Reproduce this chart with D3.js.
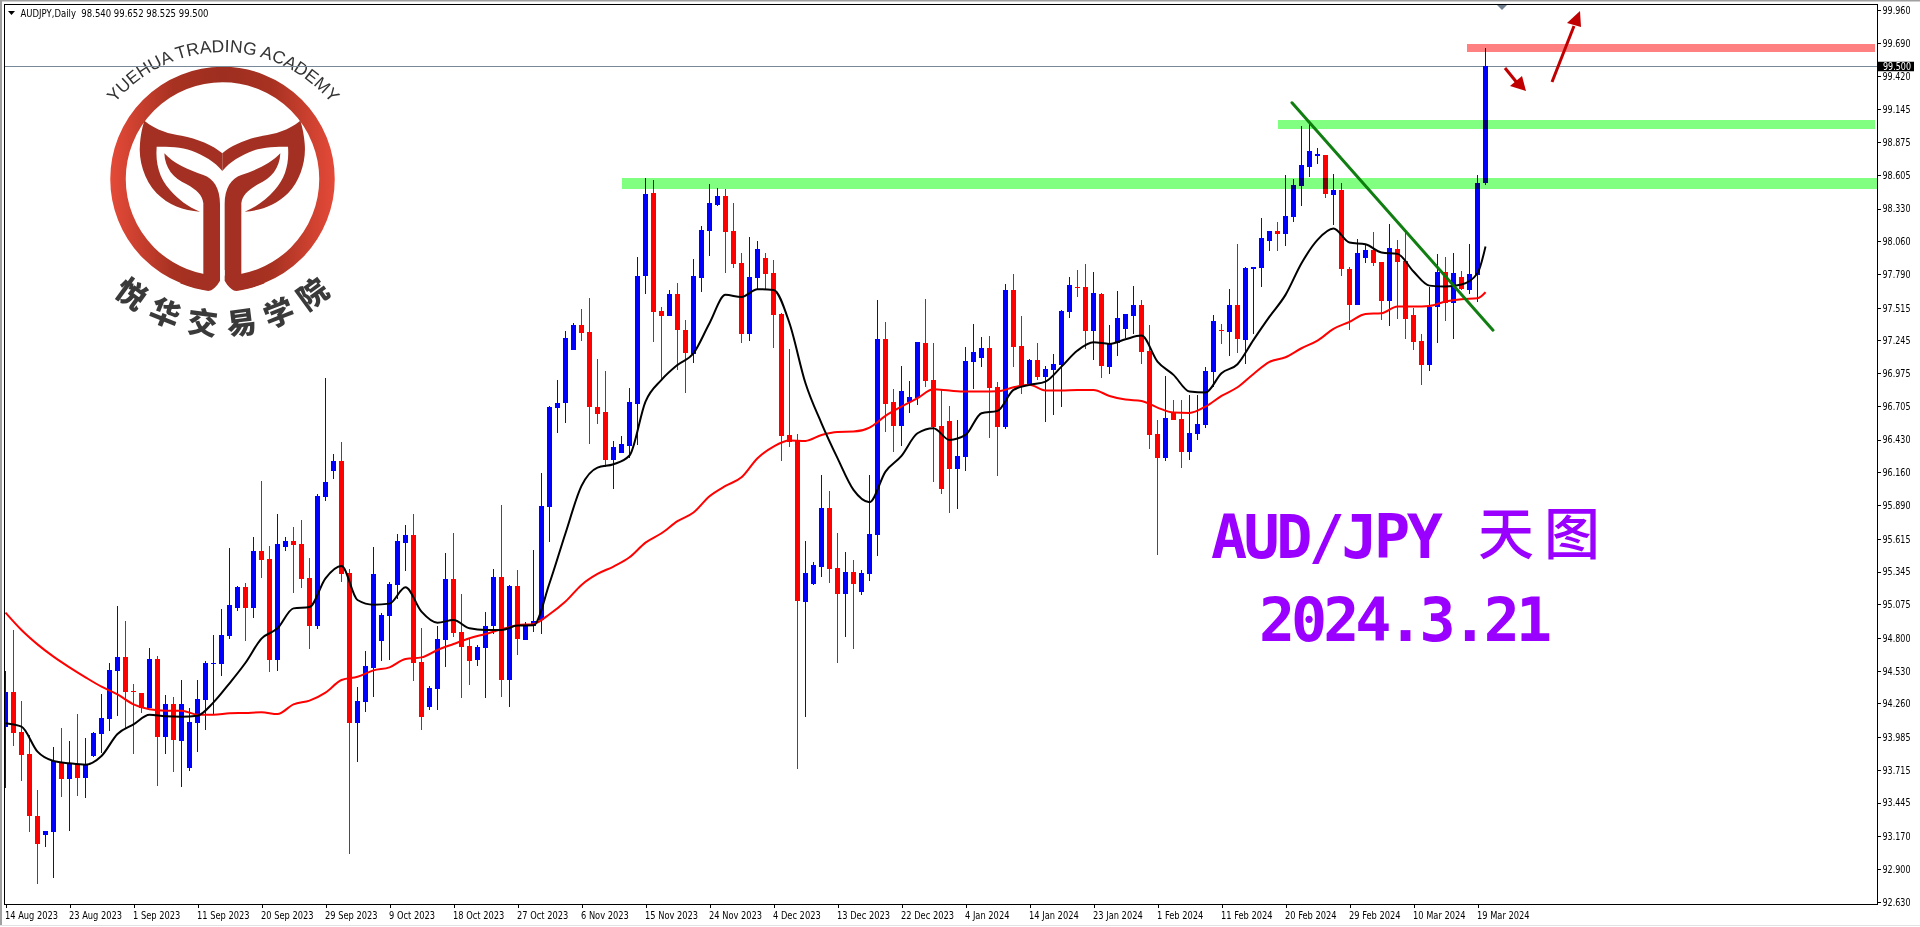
<!DOCTYPE html>
<html><head><meta charset="utf-8">
<script src="https://cdn.jsdelivr.net/npm/d3@7"></script>
<style>
html,body{margin:0;padding:0;background:#fff;overflow:hidden}
svg{display:block}
text{font-family:"Liberation Sans",Arial,sans-serif}
</style></head><body><svg id="c" width="1920" height="927"></svg>
<script>
const opens=[94.069,94.352,94.025,93.844,93.335,93.181,93.206,93.781,93.642,93.762,
93.650,93.831,94.012,94.135,94.530,94.642,94.362,94.346,94.223,94.626,
93.987,94.256,93.954,93.732,94.102,94.291,94.587,94.587,94.818,95.048,
95.218,95.048,95.514,95.448,94.620,95.549,95.596,95.571,95.292,94.900,
95.960,96.174,96.254,95.333,94.102,94.275,94.554,94.776,94.982,95.234,
95.582,95.645,94.601,94.234,94.382,94.782,95.283,94.848,94.732,94.620,
94.719,94.897,95.300,94.456,95.226,94.785,94.897,94.947,95.879,96.693,
96.732,97.167,97.373,97.315,96.699,96.658,96.266,96.323,96.381,96.726,
97.779,98.458,97.485,97.450,97.628,97.332,97.137,97.762,98.149,98.360,
98.434,98.146,97.883,97.302,97.762,97.924,97.801,97.463,96.468,96.419,
95.098,95.243,95.383,95.868,95.375,95.161,95.342,95.177,95.325,95.646,
97.258,96.740,96.542,96.740,96.773,97.225,96.921,96.542,96.584,96.189,
96.290,97.069,97.102,97.184,96.863,96.537,97.661,97.200,96.880,97.085,
96.945,97.003,97.044,97.480,97.685,97.685,97.324,97.628,97.028,97.225,
97.340,97.447,97.537,97.159,96.477,96.282,96.658,96.600,96.331,96.477,
96.553,96.989,97.332,97.318,97.537,97.252,97.836,97.844,98.064,98.146,
98.124,98.261,98.516,98.672,98.763,98.771,98.442,98.483,97.833,97.537,
97.924,97.990,97.891,97.570,97.998,97.899,97.455,97.241,97.044,97.521,
97.809,97.554,97.768,97.661,97.784,98.540];
const highs=[94.527,94.864,94.280,93.998,93.548,93.211,93.905,94.058,93.951,94.173,
93.976,94.023,94.338,94.590,95.061,94.938,94.420,94.346,94.716,94.650,
94.330,94.313,94.453,94.223,94.453,94.609,94.823,95.037,95.538,95.223,
95.251,95.629,96.089,95.555,95.818,95.629,95.711,95.769,95.456,95.982,
96.936,96.311,96.410,95.366,94.395,94.691,95.547,95.004,95.259,95.654,
95.728,95.818,94.881,94.404,94.897,95.497,95.662,95.160,94.790,94.741,
95.012,95.366,95.892,95.234,95.357,94.930,95.522,96.156,96.707,96.921,
97.324,97.389,97.505,97.595,97.093,96.995,96.419,96.460,96.855,97.932,
98.582,98.565,97.521,97.661,97.718,97.414,97.916,98.187,98.532,98.500,
98.491,98.376,97.965,98.097,98.064,97.965,97.907,97.469,97.176,96.477,
95.597,95.424,96.140,96.008,95.663,95.506,95.441,95.358,96.140,97.579,
97.398,96.847,97.036,96.912,97.233,97.587,97.225,96.838,96.707,96.592,
97.192,97.381,97.274,97.283,96.904,97.710,97.792,97.447,97.093,97.225,
97.036,97.134,97.496,97.768,97.825,97.875,97.809,97.636,97.373,97.653,
97.463,97.694,97.579,97.373,96.592,96.954,96.756,96.756,96.797,96.797,
97.028,97.455,97.381,97.669,98.039,97.850,97.850,98.253,98.146,98.220,
98.606,98.574,99.009,99.026,98.828,98.771,98.615,98.541,97.850,98.080,
98.039,98.138,97.891,98.204,98.072,98.154,97.513,97.299,97.688,97.957,
97.932,97.965,97.817,98.039,98.606,99.652];
const lows=[93.568,93.913,93.622,93.206,92.778,93.082,92.828,93.494,93.214,93.502,
93.485,93.822,93.850,94.036,94.157,94.055,93.847,94.184,94.220,93.584,
93.847,93.699,93.576,93.707,93.864,94.045,94.173,94.486,94.793,95.023,
94.774,94.966,95.292,94.521,94.530,95.516,95.171,95.212,94.711,94.875,
95.928,96.109,95.262,93.025,93.781,94.193,94.316,94.609,94.617,95.122,
95.349,94.447,94.045,94.209,94.209,94.563,94.809,94.308,94.415,94.571,
94.308,94.834,94.316,94.234,94.661,94.785,94.850,94.835,95.591,96.485,
96.570,97.167,97.241,96.397,96.562,96.208,96.027,96.323,96.277,96.389,
97.631,97.236,96.921,97.450,97.006,96.817,97.063,97.647,97.943,98.354,
97.803,97.844,97.228,97.244,97.661,97.661,97.187,96.257,96.372,93.725,
94.152,95.235,95.304,95.254,94.596,94.810,94.711,95.153,95.268,95.473,
96.493,96.329,96.378,96.649,96.715,96.863,96.082,95.983,95.827,95.860,
96.175,96.847,97.028,96.446,96.134,96.520,97.030,96.808,96.880,96.921,
96.578,96.636,96.701,97.433,97.603,97.178,97.085,96.937,96.970,97.118,
97.266,97.296,97.052,96.356,95.484,96.257,96.592,96.200,96.266,96.430,
96.529,96.866,97.219,97.121,97.145,97.055,97.302,97.688,97.984,97.984,
98.023,98.220,98.352,98.590,98.697,98.420,98.195,97.779,97.332,97.537,
97.883,97.858,97.414,97.365,97.422,97.258,97.167,96.880,96.995,97.225,
97.406,97.258,97.661,97.628,97.562,98.525];
const closes=[94.352,94.020,93.839,93.337,93.107,93.211,93.787,93.642,93.768,93.650,
93.757,94.014,94.140,94.535,94.642,94.357,94.357,94.220,94.626,93.987,
94.256,93.962,94.256,94.108,94.297,94.593,94.593,94.823,95.070,95.218,
95.048,95.514,95.442,94.620,95.571,95.596,95.566,95.286,94.900,95.966,
96.081,96.254,95.327,94.102,94.280,94.568,95.325,94.987,95.242,95.596,
95.645,94.595,94.151,94.387,94.790,95.283,94.842,94.727,94.612,94.724,
94.897,95.300,94.456,95.226,94.793,94.897,94.938,95.885,96.699,96.732,
97.266,97.373,97.310,96.701,96.644,96.266,96.370,96.394,96.740,97.776,
98.450,97.483,97.450,97.628,97.335,97.145,97.776,98.154,98.376,98.434,
98.140,97.877,97.302,97.768,97.998,97.795,97.458,96.463,96.414,95.106,
95.334,95.399,95.868,95.367,95.161,95.342,95.243,95.334,95.654,97.258,
96.723,96.542,96.830,96.781,97.233,96.912,96.534,96.024,96.189,96.296,
97.077,97.151,97.184,96.855,96.537,97.661,97.192,96.871,97.085,96.945,
97.011,97.052,97.488,97.702,97.680,97.324,97.636,97.036,97.225,97.431,
97.463,97.537,97.151,96.471,96.282,96.608,96.592,96.331,96.485,96.559,
96.995,97.406,97.326,97.537,97.261,97.842,97.850,98.088,98.146,98.124,
98.269,98.524,98.689,98.804,98.779,98.450,98.483,97.833,97.537,97.965,
97.990,97.883,97.570,98.006,97.891,97.422,97.233,97.044,97.524,97.809,
97.554,97.801,97.669,97.792,98.541,99.500];
// moving averages read at every second bar, plus the last bar
const maSlow=[95.007,94.864,94.746,94.645,94.557,94.475,94.398,94.335,94.253,94.212,
94.201,94.201,94.168,94.168,94.179,94.182,94.187,94.173,94.253,94.283,
94.349,94.453,94.480,94.532,94.557,94.626,94.639,94.700,94.749,94.796,
94.832,94.870,94.903,94.914,94.994,95.098,95.235,95.325,95.386,95.462,
95.583,95.660,95.759,95.830,95.964,96.049,96.120,96.277,96.373,96.422,
96.419,96.468,96.493,96.496,96.529,96.625,96.701,96.770,96.844,96.833,
96.825,96.825,96.827,96.860,96.880,96.833,96.833,96.838,96.838,96.789,
96.759,96.748,96.693,96.652,96.649,96.701,96.789,96.860,96.970,97.069,
97.107,97.181,97.244,97.340,97.398,97.463,97.469,97.524,97.524,97.529,
97.565,97.584,97.592,97.642];
const maFast=[94.097,94.069,93.864,93.787,93.768,93.757,93.828,94.009,94.088,94.168,
94.154,94.151,94.160,94.269,94.426,94.595,94.793,94.878,95.042,95.053,
95.289,95.390,95.111,95.072,95.081,95.215,95.015,94.924,94.946,94.878,
94.865,94.865,94.901,94.903,95.249,95.660,96.049,96.200,96.227,96.299,
96.743,96.921,97.044,97.140,97.387,97.620,97.603,97.666,97.661,97.387,
96.893,96.564,96.277,96.016,95.915,96.167,96.296,96.482,96.523,96.427,
96.468,96.647,96.666,96.838,96.880,96.907,97.030,97.162,97.230,97.217,
97.255,97.285,97.071,96.962,96.825,96.817,96.976,97.050,97.250,97.441,
97.620,97.880,98.072,98.165,98.050,98.036,97.968,97.957,97.812,97.696,
97.688,97.705,97.798,98.017];
const priceTicks=[99.960,99.690,99.420,99.145,98.875,98.605,98.330,98.060,97.790,97.515,97.245,96.975,96.705,96.430,96.160,95.890,95.615,95.345,95.075,94.800,94.530,94.260,93.985,93.715,93.445,93.170,92.900,92.630];
const dateLabels=["14 Aug 2023","23 Aug 2023","1 Sep 2023","11 Sep 2023","20 Sep 2023","29 Sep 2023","9 Oct 2023","18 Oct 2023","27 Oct 2023","6 Nov 2023","15 Nov 2023","24 Nov 2023","4 Dec 2023","13 Dec 2023","22 Dec 2023","4 Jan 2024","14 Jan 2024","23 Jan 2024","1 Feb 2024","11 Feb 2024","20 Feb 2024","29 Feb 2024","10 Mar 2024","19 Mar 2024"];
const header="AUDJPY,Daily  98.540 99.652 98.525 99.500";
const lastPrice=99.500;
const zones=[[98.581,98.491,622,1878,"#80ff80"],[99.058,98.984,1278,1875,"#80ff80"],[99.683,99.618,1467,1875,"#ff8080"]];
const logoCn=["悦","华","交","易","学","院"];

const svg=d3.select("#c");
const x=d3.scaleLinear().domain([0,185]).range([5.5,1485.5]);
const y=d3.scaleLinear().domain([92.63,99.96]).range([901.7,10.3]);
const L=5,R=1877,T=4,B=904;
const uiFont="'DejaVu Sans'";

// window frame
svg.append("rect").attr("x",0).attr("y",0).attr("width",1920).attr("height",1.5).attr("fill","#a0a0a0");
svg.append("rect").attr("x",0).attr("y",0).attr("width",2).attr("height",926).attr("fill","#a0a0a0");
svg.append("rect").attr("x",0).attr("y",925).attr("width",1920).attr("height",1).attr("fill","#e2e2e2");

// logo
const defs=svg.append("defs");
const g=defs.append("linearGradient").attr("id","lg").attr("gradientUnits","userSpaceOnUse").attr("x1",110).attr("x2",335).attr("y1",0).attr("y2",0);
[[0,"#e54a38"],[.28,"#a83222"],[.5,"#9e2e20"],[.72,"#a83222"],[1,"#e54a38"]].forEach(s=>g.append("stop").attr("offset",s[0]).attr("stop-color",s[1]));
defs.append("clipPath").attr("id","plot").append("rect").attr("x",L).attr("y",T).attr("width",R-L).attr("height",B-T);
const logo=svg.append("g");
logo.append("circle").attr("cx",222.5).attr("cy",179).attr("r",104.5).attr("fill","none").attr("stroke","url(#lg)").attr("stroke-width",15.5);
const lg=logo.append("g").attr("transform","scale(0.33333)");
const leafOuter="M433,362 C470,392 510,402 545,407 C590,416 640,435 667,460 L667,513 C645,485 610,465 575,452 C545,441 505,440 470,440 C466,490 478,535 510,570 C535,598 565,622 600,635 C550,632 505,615 470,580 C432,540 415,480 420,430 C422,405 426,385 433,362 Z";
const leafInner="M493,460 C520,490 565,510 610,525 C640,535 660,565 660,612 L660,840 C650,858 640,868 625,873 C600,870 570,862 540,850 L610,822 L610,610 C607,585 590,570 560,553 C520,535 495,505 493,460 Z";
[leafOuter,leafInner].forEach(d=>{
  lg.append("path").attr("d",d).attr("fill","#a33022");
  lg.append("path").attr("d",d).attr("fill","#a33022").attr("transform","translate(1334,0) scale(-1,1)");
});
lg.append("path").attr("d","M660,810 L660,842 C650,860 640,868 622,878 L712,878 C694,868 684,860 674,842 L674,810 Z").attr("fill","#fff");
defs.append("path").attr("id","arc").attr("d","M115,103 A140,140 0 0 1 331,103");
logo.append("text").attr("font-size",17.5).attr("fill","#333").attr("textLength",247).append("textPath").attr("href","#arc").text("YUEHUA TRADING ACADEMY");
const cnPos=d3.scaleLinear().domain([0,5]).range([-1,1]);
logo.selectAll("text.cn").data(logoCn).join("text").attr("class","cn")
  .attr("text-anchor","middle").attr("dominant-baseline","central")
  .attr("font-size",30).attr("font-weight",900).attr("fill","#3a3a3a")
  .style("font-family","'Noto Sans CJK SC'")
  .attr("transform",(d,i)=>{const t=cnPos(i),a=t*0.64;return `translate(${222+150*Math.sin(a)},${172+150*Math.cos(a)}) rotate(${-t*36})`;})
  .text(d=>d);

// last price line
svg.append("line").attr("x1",L).attr("x2",R).attr("y1",Math.round(y(lastPrice))+.5).attr("y2",Math.round(y(lastPrice))+.5).attr("stroke","#778899");

// candles
const data=opens.map((o,i)=>({i,o,h:highs[i],l:lows[i],c:closes[i]}));
const col=d=>d.c>=d.o?"#0000ff":"#ff0000";
const plot=svg.append("g").attr("clip-path","url(#plot)");
plot.append("g").selectAll("rect").data(data).join("rect")
  .attr("shape-rendering","crispEdges").attr("x",d=>x(d.i)-.5).attr("width",1)
  .attr("y",d=>Math.round(y(d.h))).attr("height",d=>Math.max(1,Math.round(y(d.l))-Math.round(y(d.h)))).attr("fill",col);
plot.append("g").selectAll("rect").data(data).join("rect")
  .attr("shape-rendering","crispEdges").attr("x",d=>x(d.i)-2.5).attr("width",5)
  .attr("y",d=>Math.round(y(Math.max(d.o,d.c))))
  .attr("height",d=>Math.max(1,Math.round(y(Math.min(d.o,d.c)))-Math.round(y(Math.max(d.o,d.c))))).attr("fill",col);
// moving averages
const lineGen=d3.line().x((d,k)=>x(Math.min(k*2,185))).y(d=>y(d)).curve(d3.curveMonotoneX);
plot.append("path").attr("d",lineGen(maSlow)).attr("fill","none").attr("stroke","#ff0000").attr("stroke-width",2);
plot.append("path").attr("d",lineGen(maFast)).attr("fill","none").attr("stroke","#000").attr("stroke-width",2);

// zones
svg.append("g").style("mix-blend-mode","multiply").selectAll("rect").data(zones).join("rect")
  .attr("shape-rendering","crispEdges").attr("x",d=>d[2]).attr("width",d=>d[3]-d[2])
  .attr("y",d=>y(d[0])).attr("height",d=>y(d[1])-y(d[0])).attr("fill",d=>d[4]);
// trend line
svg.append("line").attr("x1",1292).attr("y1",y(99.20)).attr("x2",1493).attr("y2",y(97.33))
  .attr("stroke","#0a7a0a").attr("stroke-width",3).attr("stroke-linecap","round").style("opacity",.97);

// arrows
const arrows=[{p:"1505,68 1518,84",h:"1526,91 1510,86 1522,76"},{p:"1552,82 1574,26",h:"1580,11 1567,23 1581,27"}];
arrows.forEach(a=>{
  const p=a.p.split(" ");
  svg.append("line").attr("x1",p[0].split(",")[0]).attr("y1",p[0].split(",")[1]).attr("x2",p[1].split(",")[0]).attr("y2",p[1].split(",")[1]).attr("stroke","#c00000").attr("stroke-width",3);
  svg.append("polygon").attr("points",a.h).attr("fill","#c00000");
});
// gray shift marker
svg.append("polygon").attr("points","1497,5 1507,5 1502,10").attr("fill","#708090");

// frame and axes
svg.append("path").attr("d",`M${L-.5},${B+.5} V${T+.5} H${R+.5} V${B+.5} H${L-.5}`).attr("fill","none").attr("stroke","#000").attr("shape-rendering","crispEdges");
const axY=d3.axisRight(y).tickValues(priceTicks).tickSize(3).tickPadding(2).tickFormat(d3.format(".3f"));
const gy=svg.append("g").attr("transform",`translate(${R+.5},0)`).call(axY);
gy.select(".domain").remove();
gy.selectAll("line").attr("stroke","#000").attr("shape-rendering","crispEdges");
gy.selectAll("text").attr("font-size",10.5).attr("fill","#000").style("font-family",uiFont).attr("textLength",28).attr("lengthAdjust","spacingAndGlyphs");
const axX=d3.axisBottom(x).tickValues(dateLabels.map((d,i)=>i*8)).tickSize(3).tickPadding(2).tickFormat((d,i)=>dateLabels[i]);
const gx=svg.append("g").attr("transform",`translate(0,${B+.5})`).call(axX);
gx.select(".domain").remove();
gx.selectAll("line").attr("stroke","#000").attr("shape-rendering","crispEdges");
gx.selectAll("text").attr("text-anchor","start").attr("dx",-1).attr("y",7).attr("font-size",10.5).attr("fill","#000").style("font-family",uiFont)
  .each(function(){const w=this.getComputedTextLength();d3.select(this).attr("textLength",w*0.79).attr("lengthAdjust","spacingAndGlyphs");});

// last price tag
svg.append("rect").attr("x",1878).attr("y",y(lastPrice)-4.5).attr("width",36).attr("height",9.5).attr("fill","#000");
svg.append("text").attr("x",1883).attr("y",y(lastPrice)+4).attr("font-size",10.5).attr("fill","#fff").style("font-family",uiFont).attr("textLength",28).attr("lengthAdjust","spacingAndGlyphs").text(d3.format(".3f")(lastPrice));

// header
svg.append("polygon").attr("points","8,11 15,11 11.5,15").attr("fill","#000");
svg.append("text").attr("x",20.5).attr("y",16.5).attr("font-size",10.5).attr("fill","#000").style("font-family",uiFont).attr("textLength",188).attr("lengthAdjust","spacingAndGlyphs").style("white-space","pre").text(header);

// big titles
const big=svg.append("g").attr("fill","#9900ff");
big.append("text").attr("x",1211).attr("y",557.5).attr("font-size",60).attr("font-weight",700).attr("letter-spacing",-3.5).style("font-family","'DejaVu Sans Mono'").text("AUD/JPY");
big.append("text").attr("x",1478).attr("y",554).attr("font-size",56).attr("font-weight",500).style("font-family","'Noto Sans CJK SC'").attr("letter-spacing",10).text("天图");
big.append("text").attr("x",1259).attr("y",641).attr("font-size",60).attr("font-weight",700).attr("letter-spacing",-4).style("font-family","'DejaVu Sans Mono'").text("2024.3.21");
</script></body></html>
